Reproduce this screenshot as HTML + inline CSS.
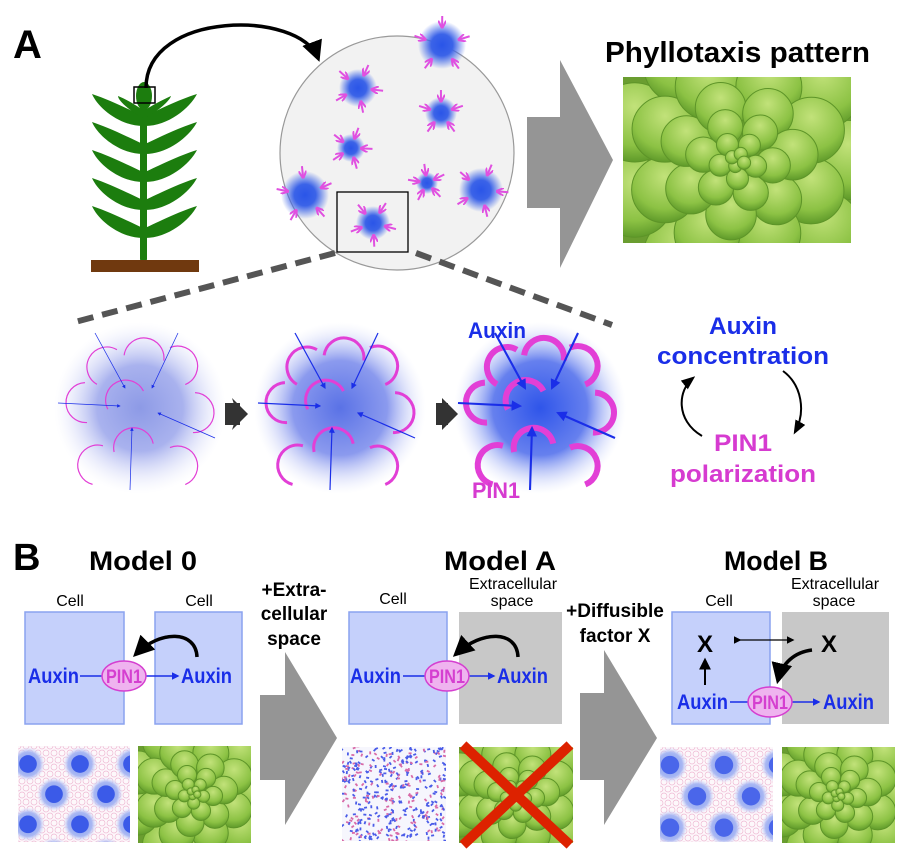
<!DOCTYPE html>
<html><head><meta charset="utf-8"><style>
html,body{margin:0;padding:0;background:#fff;}
svg{display:block;}
text{font-family:"Liberation Sans",sans-serif;}
.b{font-weight:bold;}
</style></head><body>
<svg id="s" width="900" height="851" viewBox="0 0 900 851" xmlns="http://www.w3.org/2000/svg">
<defs>
<radialGradient id="blob"><stop offset="0" stop-color="#2a55e8"/><stop offset="0.45" stop-color="#3b63e8"/><stop offset="1" stop-color="#3b63e8" stop-opacity="0"/></radialGradient>
<radialGradient id="c1"><stop offset="0" stop-color="#8d9ae6"/><stop offset="0.5" stop-color="#a9b2ee"/><stop offset="1" stop-color="#e8eafc" stop-opacity="0"/></radialGradient>
<radialGradient id="c2"><stop offset="0" stop-color="#5a72e6"/><stop offset="0.55" stop-color="#8b9aee"/><stop offset="1" stop-color="#dfe3fb" stop-opacity="0"/></radialGradient>
<radialGradient id="c3"><stop offset="0" stop-color="#2f55ea"/><stop offset="0.55" stop-color="#6680ee"/><stop offset="1" stop-color="#d6dcfb" stop-opacity="0"/></radialGradient>
<radialGradient id="pet" cx="0.5" cy="0.3" r="0.7"><stop offset="0" stop-color="#c2e27a"/><stop offset="0.7" stop-color="#8cc244"/><stop offset="1" stop-color="#5f9a2a"/></radialGradient>
<radialGradient id="spot"><stop offset="0" stop-color="#7d95ee"/><stop offset="0.7" stop-color="#a9b8f3"/><stop offset="1" stop-color="#dfe5fb" stop-opacity="0"/></radialGradient>
<marker id="ab" viewBox="0 0 10 10" refX="8" refY="5" markerWidth="6" markerHeight="6" orient="auto"><path d="M0,0L10,5L0,10z" fill="#000"/></marker>
<marker id="abb" viewBox="0 0 10 10" refX="8" refY="5" markerWidth="5" markerHeight="5" orient="auto"><path d="M0,0L10,5L0,10z" fill="#1a2ee8"/></marker>
<marker id="amg" viewBox="0 0 10 10" refX="8" refY="5" markerWidth="4" markerHeight="4" orient="auto"><path d="M0,0L10,5L0,10" fill="none" stroke="#e050e0" stroke-width="2.5"/></marker>
<marker id="as" viewBox="0 0 10 10" refX="8" refY="5" markerWidth="7" markerHeight="7" orient="auto"><path d="M0,1L10,5L0,9z" fill="#000"/></marker>
<clipPath id="cp1"><rect x="623" y="77" width="228" height="166"/></clipPath>
<clipPath id="cp2"><rect x="138" y="746" width="113" height="97"/></clipPath>
<clipPath id="cp3"><rect x="459" y="747" width="114" height="96"/></clipPath>
<clipPath id="cp4"><rect x="782" y="747" width="113" height="96"/></clipPath>
<clipPath id="pp1"><rect x="18" y="746" width="112" height="96"/></clipPath>
<clipPath id="pp2"><rect x="342" y="747" width="104" height="94"/></clipPath>
<clipPath id="pp3"><rect x="660" y="747" width="113" height="95"/></clipPath>
</defs>

<text x="13" y="58" class="b" font-size="40">A</text>
<g fill="#1c7d0e">
<rect x="140" y="92" width="7" height="170" rx="3"/>
</g>
<g id="plant" fill="#1c7d0e"></g>
<rect x="91" y="260" width="108" height="12" fill="#70390f"/>
<rect x="134" y="87" width="21" height="16" fill="none" stroke="#000" stroke-width="1.5"/>
<path d="M146,88 C146,10 300,10 318,58" fill="none" stroke="#000" stroke-width="3.5" marker-end="url(#ab)"/>
<circle cx="397" cy="153" r="117" fill="#f2f2f2" stroke="#999" stroke-width="1.2"/>
<g id="blobs"></g>
<rect x="337" y="192" width="71" height="60" fill="none" stroke="#000" stroke-width="1.3"/>
<line x1="335" y1="253" x2="75" y2="322" stroke="#555" stroke-width="6" stroke-dasharray="16,9"/>
<line x1="416" y1="253" x2="612" y2="325" stroke="#555" stroke-width="6" stroke-dasharray="16,9"/>
<polygon points="527,117 560,117 560,60 613,160 560,268 560,208 527,208" fill="#959595"/>
<text x="605" y="62" class="b" font-size="29" textLength="265" lengthAdjust="spacingAndGlyphs">Phyllotaxis pattern</text>
<g clip-path="url(#cp1)"><rect x="623" y="77" width="228" height="166" fill="#6a9d30"/><g id="ros1"></g></g>

<circle cx="140" cy="408" r="86" fill="url(#c1)"/>
<circle cx="340" cy="408" r="86" fill="url(#c2)"/>
<circle cx="540" cy="408" r="86" fill="url(#c3)"/>
<g id="cells"></g>
<polygon points="232,398 248,414 232,430 237,414" fill="#333"/>
<polygon points="225,403 240,403 240,425 225,425" fill="#333"/>
<polygon points="442,398 458,414 442,430" fill="#333"/>
<polygon points="436,403 448,403 448,425 436,425" fill="#333"/>
<text x="468" y="338" class="b" font-size="22" fill="#1a2ee8" textLength="58" lengthAdjust="spacingAndGlyphs">Auxin</text>
<text x="472" y="498" class="b" font-size="22" fill="#d63bd0" textLength="48" lengthAdjust="spacingAndGlyphs">PIN1</text>
<text x="743" y="334" class="b" font-size="24" fill="#1a2ee8" text-anchor="middle" textLength="68" lengthAdjust="spacingAndGlyphs">Auxin</text>
<text x="743" y="364" class="b" font-size="24" fill="#1a2ee8" text-anchor="middle" textLength="172" lengthAdjust="spacingAndGlyphs">concentration</text>
<text x="743" y="451" class="b" font-size="24" fill="#d63bd0" text-anchor="middle" textLength="58" lengthAdjust="spacingAndGlyphs">PIN1</text>
<text x="743" y="482" class="b" font-size="24" fill="#d63bd0" text-anchor="middle" textLength="146" lengthAdjust="spacingAndGlyphs">polarization</text>
<path d="M702,436 C675,420 678,390 693,378" fill="none" stroke="#000" stroke-width="2" marker-end="url(#as)"/>
<path d="M783,371 C802,385 806,412 795,432" fill="none" stroke="#000" stroke-width="2" marker-end="url(#as)"/>

<text x="13" y="570" class="b" font-size="38">B</text>
<text x="143" y="570" class="b" font-size="27" text-anchor="middle" textLength="108" lengthAdjust="spacingAndGlyphs">Model 0</text>
<text x="500" y="570" class="b" font-size="27" text-anchor="middle" textLength="112" lengthAdjust="spacingAndGlyphs">Model A</text>
<text x="776" y="570" class="b" font-size="27" text-anchor="middle" textLength="104" lengthAdjust="spacingAndGlyphs">Model B</text>

<g font-size="16" text-anchor="middle">
<text x="70" y="606">Cell</text><text x="199" y="606">Cell</text>
<text x="393" y="604">Cell</text>
<text x="513" y="589">Extracellular</text><text x="512" y="606">space</text>
<text x="719" y="606">Cell</text>
<text x="835" y="589">Extracellular</text><text x="834" y="606">space</text>
</g>
<g class="b" font-size="19" text-anchor="middle">
<text x="294" y="596">+Extra-</text><text x="294" y="620">cellular</text><text x="294" y="645">space</text>
<text x="615" y="617">+Diffusible</text><text x="615" y="642">factor X</text>
</g>
<polygon points="260,695 285,695 285,652 337,738 285,825 285,780 260,780" fill="#959595"/>
<polygon points="580,693 604,693 604,650 657,738 604,825 604,780 580,780" fill="#959595"/>

<g fill="#c5d0fb" stroke="#8aa2ef" stroke-width="1.5">
<rect x="25" y="612" width="99" height="112"/>
<rect x="155" y="612" width="87" height="112"/>
<rect x="349" y="612" width="98" height="112"/>
<rect x="672" y="612" width="98" height="112"/>
</g>
<rect x="459" y="612" width="103" height="112" fill="#c8c8c8"/>
<rect x="782" y="612" width="107" height="112" fill="#c8c8c8"/>

<g class="b" font-size="21" fill="#1a2ee8">
<text x="28" y="683" textLength="51" lengthAdjust="spacingAndGlyphs">Auxin</text>
<text x="181" y="683" textLength="51" lengthAdjust="spacingAndGlyphs">Auxin</text>
<text x="350" y="683" textLength="51" lengthAdjust="spacingAndGlyphs">Auxin</text>
<text x="497" y="683" textLength="51" lengthAdjust="spacingAndGlyphs">Auxin</text>
<text x="677" y="709" textLength="51" lengthAdjust="spacingAndGlyphs">Auxin</text>
<text x="823" y="709" textLength="51" lengthAdjust="spacingAndGlyphs">Auxin</text>
</g>
<g id="pins"></g>
<path d="M197,657 C196,630 160,630 136,654" fill="none" stroke="#000" stroke-width="3.5" marker-end="url(#ab)"/>
<path d="M518,657 C517,630 482,630 456,654" fill="none" stroke="#000" stroke-width="3.5" marker-end="url(#ab)"/>
<text x="705" y="652" class="b" font-size="24" text-anchor="middle">X</text>
<text x="829" y="652" class="b" font-size="24" text-anchor="middle">X</text>
<line x1="705" y1="685" x2="705" y2="660" stroke="#000" stroke-width="2" marker-end="url(#ab)"/>
<line x1="740" y1="640" x2="793" y2="640" stroke="#000" stroke-width="1.3" marker-start="url(#ab)" marker-end="url(#ab)"/>
<path d="M812,650 C795,652 782,663 778,680" fill="none" stroke="#000" stroke-width="3.5" marker-end="url(#ab)"/>

<g clip-path="url(#cp2)"><rect x="138" y="746" width="113" height="97" fill="#6a9d30"/><g id="ros2"></g></g>
<g clip-path="url(#cp3)"><rect x="459" y="747" width="114" height="96" fill="#6a9d30"/><g id="ros3"></g></g>
<g clip-path="url(#cp4)"><rect x="782" y="747" width="113" height="96" fill="#6a9d30"/><g id="ros4"></g></g>
<line x1="463" y1="745" x2="570" y2="845" stroke="#dd2200" stroke-width="10"/>
<line x1="570" y1="745" x2="463" y2="845" stroke="#dd2200" stroke-width="10"/>
<g clip-path="url(#pp1)" id="pat1"></g>
<g clip-path="url(#pp2)" id="pat2"></g>
<g clip-path="url(#pp3)" id="pat3"></g>
</svg>
<script>
var NS="http://www.w3.org/2000/svg";
function el(p,t,a){var e=document.createElementNS(NS,t);for(var k in a)e.setAttribute(k,a[k]);document.getElementById(p).appendChild(e);return e;}
var ys=[112,140,168,196,224];
ys.forEach(function(y,i){
 el("plant","path",{d:"M143,"+(y+14)+" C120,"+(y+14)+" 98,"+(y-4)+" 92,"+(y-18)+" C110,"+(y-12)+" 130,"+(y-2)+" 143,"+(y+4)+"z"});
 el("plant","path",{d:"M145,"+(y+14)+" C168,"+(y+14)+" 190,"+(y-4)+" 197,"+(y-18)+" C178,"+(y-12)+" 158,"+(y-2)+" 145,"+(y+4)+"z"});
});
el("plant","path",{d:"M143,118 C128,110 118,100 118,96 C128,100 137,106 143,110z"});
el("plant","path",{d:"M145,118 C160,110 170,100 171,96 C162,100 151,106 145,110z"});
el("plant","ellipse",{cx:144,cy:96,rx:8,ry:14});
var B=[[442,45,24],[358,88,19],[441,113,16],[351,148,14],[305,195,24],[427,183,11],[481,190,22],[373,223,17]];
B.forEach(function(b){
 el("blobs","circle",{cx:b[0],cy:b[1],r:b[2],fill:"url(#blob)"});
 for(var k=0;k<5;k++){var a=k*2*Math.PI/5+0.3+b[0]*0.01;var r2=b[2]*0.75,r1=r2+11;
  el("blobs","line",{x1:b[0]+r1*Math.cos(a),y1:b[1]+r1*Math.sin(a),x2:b[0]+r2*Math.cos(a),y2:b[1]+r2*Math.sin(a),stroke:"#e050e0","stroke-width":2,"marker-end":"url(#amg)"});}
});
[[140,1.2,1.2],[340,3,2],[540,6,3.5]].forEach(function(c,i){
 var cx=c[0],cy=408;
 var arcs=[[-40,-45,0],[5,-58,0],[45,-45,0],[-62,-5,1],[-18,-15,1],[62,5,1],[-8,32,2],[-50,55,3],[45,55,3]];
 arcs.forEach(function(a){
  var x=cx+a[0],y=cy+a[1],r=20;
  el("cells","path",{d:"M"+(x-r)+","+(y+8)+" A"+r+","+r+" 0 0 1 "+(x+r)+","+(y+8),fill:"none",stroke:"#e23fd6","stroke-width":c[1],transform:"rotate("+(a[0]*1.5)+" "+x+" "+y+")"});
 });
 var ar=[[-45,-75,-15,-20],[38,-75,12,-20],[-82,-5,-20,-2],[-10,82,-8,20],[75,30,18,5]];
 ar.forEach(function(a){
  el("cells","line",{x1:cx+a[0],y1:cy+a[1],x2:cx+a[2],y2:cy+a[3],stroke:"#1a2ee8","stroke-width":c[2]*0.6,"marker-end":"url(#abb)"});
 });
});
[[80,146,178,676,124],[403,469,494,676,447],[730,792,819,702,770]].forEach(function(p){
 var x0=p[0],ex=p[4],y=p[3];
 el("pins","line",{x1:x0,y1:y,x2:ex-20,y2:y,stroke:"#1a2ee8","stroke-width":1.5});
 el("pins","line",{x1:ex+21,y1:y,x2:p[2],y2:y,stroke:"#1a2ee8","stroke-width":1.5,"marker-end":"url(#abb)"});
 el("pins","ellipse",{cx:ex,cy:y,rx:22,ry:15,fill:"#efb3ef",stroke:"#d53fd0","stroke-width":1.5});
 var t=el("pins","text",{x:ex,y:y+7,"text-anchor":"middle","font-size":19,"font-weight":"bold",fill:"#d53fd0",textLength:36,lengthAdjust:"spacingAndGlyphs"});t.textContent="PIN1";
});
function ros(id,cx,cy,s){
 var rings=[[1.0,9,0.36],[0.72,8,0.30],[0.5,7,0.23],[0.32,6,0.16],[0.17,5,0.1],[0.06,4,0.06]];
 rings.forEach(function(r,j){
  for(var k=0;k<r[1];k++){var a=k*2*Math.PI/r[1]+j*0.4;
   el(id,"circle",{cx:cx+s*r[0]*Math.cos(a),cy:cy+s*r[0]*Math.sin(a),r:s*r[2],fill:"url(#pet)",stroke:"#5d9428","stroke-width":1});}
 });
}
ros("ros1",738,160,110);ros("ros2",194,793,60);ros("ros3",516,795,60);ros("ros4",838,795,60);
function pat(id,x0,y0,w,h,blue,sp){
 el(id,"rect",{x:x0,y:y0,width:w,height:h,fill:"#fdf8fb"});
 for(var yy=y0;yy<y0+h+8;yy+=7)for(var xx=x0;xx<x0+w+8;xx+=8){
  el(id,"circle",{cx:xx+((yy-y0)/7%2)*4,cy:yy,r:3,fill:"none",stroke:"#eeb8d2","stroke-width":0.7});}
 var row=0;for(var yy=y0+18;yy<y0+h+30;yy+=sp*0.58,row++)for(var xx=x0+10+(row%2)*sp/2;xx<x0+w+30;xx+=sp){
  el(id,"circle",{cx:xx,cy:yy,r:sp*0.33,fill:"url(#spot)"});
  el(id,"circle",{cx:xx,cy:yy,r:sp*0.17,fill:blue});
 }
}
pat("pat1",18,746,112,96,"#3b5ae8",52);
pat("pat3",660,747,113,95,"#4a66ea",54);
(function(){var id="pat2";el(id,"rect",{x:342,y:747,width:104,height:94,fill:"#f6f6fd"});
 var seed=7;function rnd(){seed=(seed*9301+49297)%233280;return seed/233280;}
 for(var i=0;i<420;i++){var x=342+rnd()*104,y=747+rnd()*94;
  el(id,"rect",{x:x,y:y,width:3,height:1.8,fill:rnd()<0.6?"#4a5ce8":"#d86aa8",transform:"rotate("+(rnd()*180)+" "+x+" "+y+")"});}
})();
</script>
</body></html>
